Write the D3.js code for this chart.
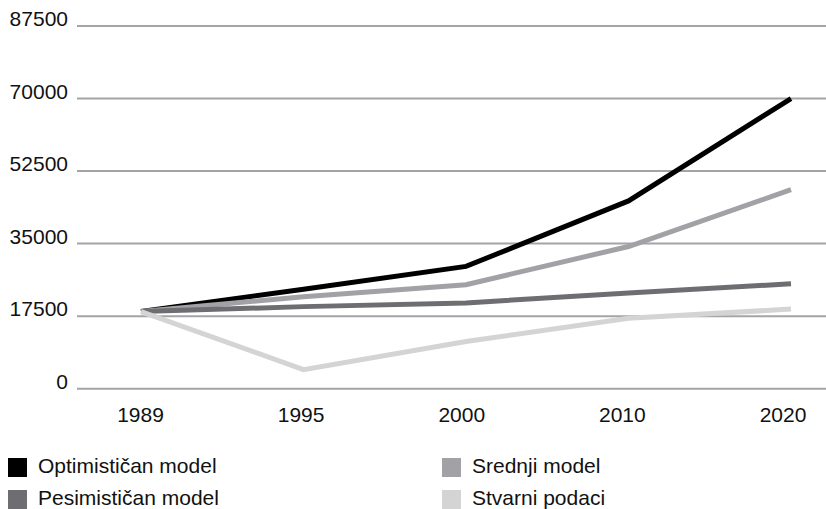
<!DOCTYPE html>
<html>
<head>
<meta charset="utf-8">
<script src="https://cdn.jsdelivr.net/npm/d3@7"></script>
<style>
  body { margin: 0; background: #fff; }
  svg { display: block; font-family: "Liberation Sans", Arial, Helvetica, sans-serif; }
</style>
</head>
<body>
<svg id="chart"></svg>
<script>
const years = ['1989', '1995', '2000', '2010', '2020'];
const yTicks = [0, 17500, 35000, 52500, 70000, 87500];

const optimistic = [18600, 24000, 29500, 45300, 70000];
const pessimistic = [18600, 19800, 20700, 23100, 25300];
const middle = [18600, 22200, 25100, 34300, 48000];
const actual = [18600, 4600, 11400, 17000, 19200];

const seriesNames = ['Optimističan model', 'Pesimističan model', 'Srednji model', 'Stvarni podaci'];

function lineChart(container) {
  const width = 826;
  const height = 509;

  const series = [
    { name: seriesNames[0], values: optimistic, color: '#000000' },
    { name: seriesNames[1], values: pessimistic, color: '#6e6e72' },
    { name: seriesNames[2], values: middle, color: '#a2a2a6' },
    { name: seriesNames[3], values: actual, color: '#d4d4d4' }
  ];

  const svg = d3.select(container)
      .attr('width', width)
      .attr('height', height);

  const x = d3.scalePoint()
      .domain(years)
      .range([141, 791]);

  // tick labels sit a little left of the line points in the original
  const xLabel = d3.scalePoint()
      .domain(years)
      .range([140.5, 783]);

  const y = d3.scaleLinear()
      .domain([0, 87500])
      .range([388.7, 26]);

  // grid
  svg.append('g')
      .attr('class', 'grid')
    .selectAll('line')
      .data(yTicks)
    .enter().append('line')
      .attr('x1', 77)
      .attr('x2', width)
      .attr('y1', d => y(d))
      .attr('y2', d => y(d))
      .attr('stroke', '#a4a4a8')
      .attr('stroke-width', 2);

  // y labels
  svg.append('g')
      .attr('class', 'y axis')
    .selectAll('text')
      .data(yTicks)
    .enter().append('text')
      .attr('x', 68)
      .attr('y', d => y(d))
      .attr('text-anchor', 'end')
      .attr('font-size', 21)
      .attr('fill', '#111')
      .text(d => d);

  // x labels
  svg.append('g')
      .attr('class', 'x axis')
    .selectAll('text')
      .data(years)
    .enter().append('text')
      .attr('x', d => xLabel(d))
      .attr('y', 422)
      .attr('text-anchor', 'middle')
      .attr('font-size', 21)
      .attr('fill', '#111')
      .text(d => d);

  const line = d3.line()
      .x((d, i) => x(years[i]))
      .y(d => y(d));

  const drawOrder = [series[0], series[2], series[1], series[3]];

  svg.append('g')
      .attr('class', 'lines')
    .selectAll('path')
      .data(drawOrder)
    .enter().append('path')
      .attr('d', d => line(d.values))
      .attr('fill', 'none')
      .attr('stroke', d => d.color)
      .attr('stroke-width', 5)
      .attr('stroke-linejoin', 'miter');

  // legend, two columns
  const legend = svg.append('g')
      .attr('class', 'legend')
    .selectAll('g')
      .data(series)
    .enter().append('g')
      .attr('transform', (d, i) => `translate(${i < 2 ? 8 : 442},${i % 2 === 0 ? 458 : 490})`);

  legend.append('rect')
      .attr('width', 19)
      .attr('height', 19)
      .attr('fill', d => d.color);

  legend.append('text')
      .attr('x', 30)
      .attr('y', 15)
      .attr('font-size', 21)
      .attr('fill', '#111')
      .text(d => d.name);
}

lineChart('#chart');
</script>
</body>
</html>
